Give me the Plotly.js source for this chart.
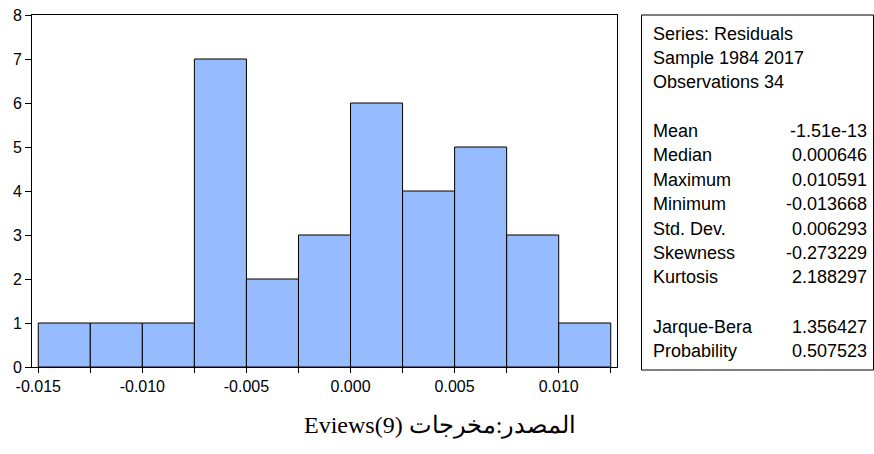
<!DOCTYPE html>
<html>
<head>
<meta charset="utf-8">
<script src="https://cdn.plot.ly/plotly-3.0.1.min.js"></script>
<style>html,body{margin:0;padding:0;background:#fff;}#chart{width:874px;height:454px;}</style>
</head>
<body>
<div id="chart"></div>
<script>
// ---- data ----
var binStarts = [-0.015, -0.0125, -0.010, -0.0075, -0.005, -0.0025, 0.000, 0.0025, 0.005, 0.0075, 0.010];
var binWidth = 0.0025;
var counts = [1, 1, 1, 7, 2, 3, 6, 4, 5, 3, 1];
var xTickVals = [-0.015, -0.0125, -0.010, -0.0075, -0.005, -0.0025, 0.000, 0.0025, 0.005, 0.0075, 0.010, 0.0125];
var xTickText = ["-0.015", "", "-0.010", "", "-0.005", "", "0.000", "", "0.005", "", "0.010", ""];
var yTickVals = [0, 1, 2, 3, 4, 5, 6, 7, 8];
var statsHeader = ["Series: Residuals", "Sample 1984 2017", "Observations 34"];
var statNames = ["Mean", "Median", "Maximum", "Minimum", "Std. Dev.", "Skewness", "Kurtosis"];
var statValues = ["-1.51e-13", "0.000646", "0.010591", "-0.013668", "0.006293", "-0.273229", "2.188297"];
var testNames = ["Jarque-Bera", "Probability"];
var testValues = ["1.356427", "0.507523"];
var caption = "Eviews(9) المصدر:مخرجات";

// ---- layout geometry (pixels) ----
var W = 874, H = 454;
var L = 32, R = 617, T = 15, B = 367;
function px(x) { return (x - L) / (R - L); }
function py(y) { return (B - y) / (B - T); }

var centers = binStarts.map(function (s) { return s + binWidth / 2; });

var trace = {
  type: 'bar',
  x: centers,
  y: counts,
  width: binWidth,
  marker: { color: '#96BBFF', line: { color: '#000', width: 1 } },
  hoverinfo: 'x+y'
};

var font = { family: 'Liberation Sans, Arial, sans-serif', size: 16, color: '#000' };
var statFont = { family: 'Liberation Sans, Arial, sans-serif', size: 18, color: '#000' };

var annotations = [];
var lineY = [34, 58, 82];
statsHeader.forEach(function (t, i) {
  annotations.push({ xref: 'paper', yref: 'paper', x: px(651), y: py(lineY[i]), text: t, showarrow: false, xanchor: 'left', yanchor: 'middle', font: statFont });
});
var statY = [131, 155, 180, 204, 229, 253, 277];
statNames.forEach(function (t, i) {
  annotations.push({ xref: 'paper', yref: 'paper', x: px(651), y: py(statY[i]), text: t, showarrow: false, xanchor: 'left', yanchor: 'middle', font: statFont });
  annotations.push({ xref: 'paper', yref: 'paper', x: px(869), y: py(statY[i]), text: statValues[i], showarrow: false, xanchor: 'right', yanchor: 'middle', font: statFont });
});
var testY = [327, 351];
testNames.forEach(function (t, i) {
  annotations.push({ xref: 'paper', yref: 'paper', x: px(651), y: py(testY[i]), text: t, showarrow: false, xanchor: 'left', yanchor: 'middle', font: statFont });
  annotations.push({ xref: 'paper', yref: 'paper', x: px(869), y: py(testY[i]), text: testValues[i], showarrow: false, xanchor: 'right', yanchor: 'middle', font: statFont });
});
annotations.push({ xref: 'paper', yref: 'paper', x: px(440), y: py(426), text: caption, showarrow: false, xanchor: 'center', yanchor: 'middle',
  font: { family: 'Liberation Serif, Times New Roman, serif', size: 24, color: '#000' } });

var layout = {
  width: W, height: H,
  margin: { l: L, r: W - R, t: T, b: H - B, pad: 0 },
  paper_bgcolor: '#fff', plot_bgcolor: '#fff',
  showlegend: false,
  font: font,
  bargap: 0,
  xaxis: {
    range: [-0.0153, 0.0128],
    tickmode: 'array', tickvals: xTickVals, ticktext: xTickText,
    ticks: 'outside', ticklen: 5, tickcolor: '#000', tickwidth: 1,
    showgrid: false, zeroline: false,
    showline: true, mirror: true, linecolor: '#000', linewidth: 1,
    tickfont: font
  },
  yaxis: {
    range: [0, 8],
    tickmode: 'array', tickvals: yTickVals,
    ticks: 'outside', ticklen: 6, tickcolor: '#000', tickwidth: 1,
    showgrid: false, zeroline: false,
    showline: true, mirror: true, linecolor: '#000', linewidth: 1,
    tickfont: font
  },
  shapes: [{
    type: 'rect', xref: 'paper', yref: 'paper',
    x0: px(641.5), x1: px(873.5), y0: py(370), y1: py(15),
    line: { color: '#000', width: 1 }, fillcolor: 'rgba(0,0,0,0)'
  }],
  annotations: annotations
};

Plotly.newPlot('chart', [trace], layout, { displayModeBar: false, staticPlot: true });
</script>
</body>
</html>
